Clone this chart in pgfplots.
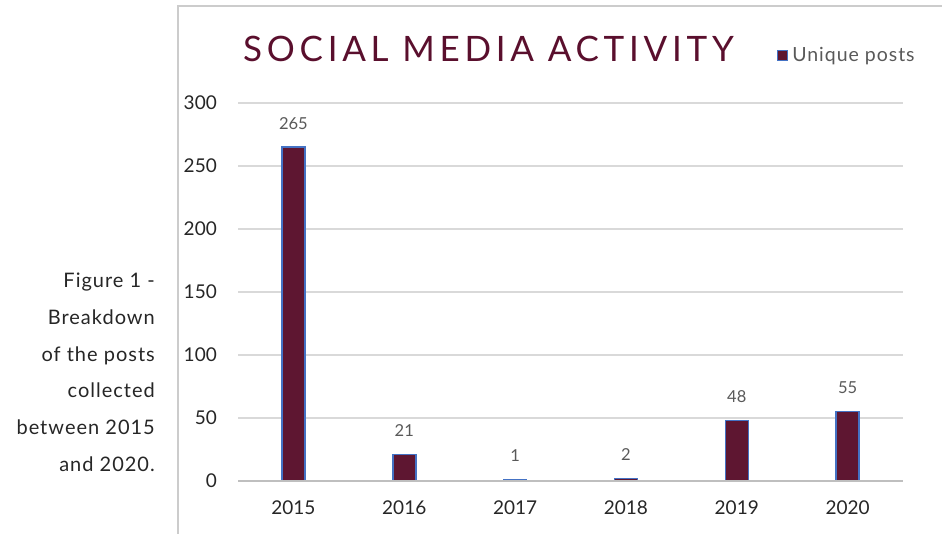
\documentclass[border=0pt]{standalone}
\usepackage{pgfplots}
\pgfplotsset{compat=1.18}
\usepackage{fontspec}
\setmainfont{Lato}
\newfontfamily\titlefont[LetterSpace=13.5]{Lato}
\newfontfamily\widefont[LetterSpace=5]{Lato}
\definecolor{maroon}{HTML}{5E1631}
\definecolor{titlecol}{HTML}{5A0F2D}
\definecolor{edgeblue}{HTML}{4472C4}
\definecolor{gridgray}{HTML}{D9D9D9}
\definecolor{basegray}{HTML}{BFBFBF}
\definecolor{framegray}{HTML}{CCCCCC}
\definecolor{labgray}{HTML}{595959}
\begin{document}
\begin{tikzpicture}[x=1pt,y=1pt]
\path[use as bounding box] (0,0) rectangle (942,534);
\draw[framegray, line width=1.5pt] (178,0) -- (178,528) -- (942,528);
% caption
\begin{scope}[every node/.style={anchor=base east, inner sep=0pt, font=\widefont\fontsize{20}{23}\selectfont, text=black!85}]
\node at (155,246) {Figure 1 -};
\node at (155,209) {Breakdown};
\node at (155,172) {of the posts};
\node at (155,136) {collected};
\node at (155,99) {between 2015};
\node at (155,62) {and 2020.};
\end{scope}
% title
\node[anchor=base west, inner sep=0pt, text=titlecol, font=\titlefont\fontsize{35}{40}\selectfont] at (243,472) {SOCIAL MEDIA ACTIVITY};
\begin{axis}[
  at={(238pt,53pt)}, anchor=south west,
  scale only axis, width=665pt, height=378pt,
  clip=false,
  ybar, bar width=23pt,
  xmin=-0.5, xmax=5.5, ymin=0, ymax=300,
  xtick={0,1,2,3,4,5},
  xticklabels={2015,2016,2017,2018,2019,2020},
  ytick={0,50,100,150,200,250,300},
  /pgf/number format/assume math mode=true,
  axis line style={draw=none},
  major tick length=0pt,
  ymajorgrids, major grid style={gridgray, line width=1.5pt},
  xticklabel style={anchor=north, inner sep=0pt, yshift=-20pt, font=\fontsize{19}{22}\selectfont, text=black!85},
  yticklabel style={anchor=east, inner sep=0pt, xshift=-21pt, font=\fontsize{19}{22}\selectfont, text=black!85},
  nodes near coords,
  every node near coord/.append style={anchor=south, inner sep=0pt, yshift=17pt, font=\fontsize{16.5}{19}\selectfont, text=labgray},
  legend style={at={(0.810,1.126)}, anchor=west, draw=none, fill=none, inner sep=0pt, font=\widefont\fontsize{19.5}{22}\selectfont, text=labgray, /tikz/every even column/.append style={column sep=0pt}, nodes={inner xsep=4pt}},
  legend image code/.code={\draw[#1] (0pt,-5pt) rectangle (10pt,5pt);},
]
\addplot[fill=maroon, draw=edgeblue, line width=1.5pt] coordinates {(0,265) (1,21) (2,1) (3,2) (4,48) (5,55)};
\addlegendentry{Unique posts}
\draw[basegray, line width=2.5pt] (axis cs:-0.5,0) -- (axis cs:5.5,0);
\end{axis}
\end{tikzpicture}
\end{document}
